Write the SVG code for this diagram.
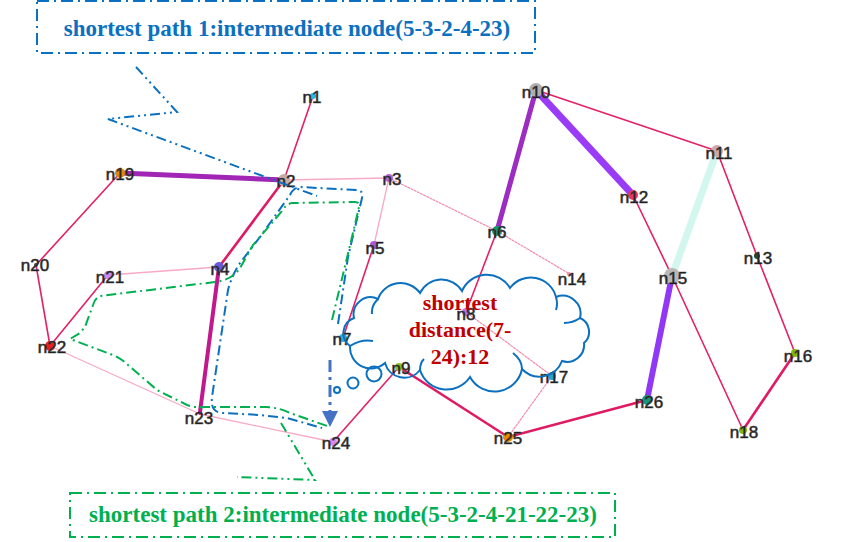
<svg xmlns="http://www.w3.org/2000/svg" width="851" height="542" viewBox="0 0 851 542">
<style>
.e{fill:none;stroke-linecap:round}
.r{stroke:#e42067;stroke-width:1.6}
.rt{stroke:#e01a63;stroke-width:2.6}
.p{stroke:#f7aac3;stroke-width:1.3}
.pd{stroke:#f08cab;stroke-width:1.2;stroke-dasharray:2 1.5}
.lbl{font-family:"Liberation Sans",Arial,sans-serif;font-size:17px;fill:#111;stroke:#444;stroke-width:0.6;text-anchor:middle;dominant-baseline:central}
.ttl{font-family:"Liberation Serif","Times New Roman",serif;font-weight:bold;font-size:23px;text-anchor:middle}
.bdd{fill:none;stroke-width:2;stroke-dasharray:12 5 2 5}
.cl{fill:none;stroke-width:2;stroke-dasharray:10 4 2 4 2 4}
.rt1{fill:none;stroke-width:2;stroke-dasharray:10 4 2 4}
.blue{stroke:#0b70c0}
.green{stroke:#00b050}
.ct{font-family:"Liberation Serif","Times New Roman",serif;font-weight:bold;font-size:22px;fill:#c00000;stroke:none;text-anchor:middle}
</style>
<rect width="851" height="542" fill="#fff"/>
<g id="connectors">
<line class="e r" x1="313" y1="96" x2="284" y2="180"/>
<line class="e r" x1="120" y1="173" x2="36" y2="265"/>
<line class="e r" x1="36" y1="265" x2="50" y2="346"/>
<line class="e r" x1="108" y1="275" x2="50" y2="346"/>
<line class="e r" x1="374" y1="245" x2="343" y2="338"/>
<line class="e r" x1="497" y1="231" x2="466" y2="312"/>
<line class="e r" x1="399" y1="367" x2="333" y2="442"/>
<line class="e r" x1="536" y1="90" x2="717" y2="151"/>
<line class="e r" x1="717" y1="151" x2="757" y2="256"/>
<line class="e r" x1="757" y1="256" x2="795" y2="353"/>
<line class="e r" x1="633" y1="195" x2="672" y2="276"/>
<line class="e r" x1="672" y1="276" x2="743" y2="430"/>
<line class="e rt" x1="284" y1="180" x2="219" y2="267"/>
<line class="e rt" x1="399" y1="367" x2="508" y2="437"/>
<line class="e rt" x1="508" y1="437" x2="647" y2="400"/>
<line class="e rt" x1="795" y1="353" x2="743" y2="430"/>
<line class="e p" x1="284" y1="180" x2="389" y2="178"/>
<line class="e p" x1="389" y1="178" x2="374" y2="245"/>
<line class="e p" x1="219" y1="267" x2="108" y2="275"/>
<line class="e p" x1="50" y1="346" x2="200" y2="414"/>
<line class="e p" x1="200" y1="414" x2="333" y2="442"/>
<line class="e pd" x1="389" y1="178" x2="497" y2="231"/>
<line class="e pd" x1="497" y1="231" x2="568" y2="273"/>
<line class="e pd" x1="466" y1="312" x2="552" y2="376"/>
<line class="e pd" x1="552" y1="376" x2="508" y2="437"/>
<line class="e" stroke="#a126b5" stroke-width="5" x1="120" y1="173" x2="284" y2="180"/>
<line class="e" stroke="#c2188e" stroke-width="4" x1="219" y1="267" x2="200" y2="412"/>
<line class="e" stroke="#9c2cc2" stroke-width="5" x1="536" y1="90" x2="497" y2="231"/>
<line class="e" stroke="#9a3cf7" stroke-width="7" x1="536" y1="90" x2="633" y2="195"/>
<line class="e" stroke="#9038f5" stroke-width="6" x1="672" y1="276" x2="647" y2="400"/>
<line class="e" stroke="#d3f6ee" stroke-width="7" x1="717" y1="151" x2="672" y2="276"/>
</g>
<g id="nodes">
<g id="n1"><circle cx="313" cy="96" r="3" fill="#2ab8e0"/><text class="lbl" x="312" y="97">n1</text></g>
<g id="n2"><circle cx="284" cy="180" r="6" fill="#c9aca6"/><text class="lbl" x="286" y="181">n2</text></g>
<g id="n3"><circle cx="389" cy="178" r="4" fill="#b566d9"/><text class="lbl" x="392" y="179">n3</text></g>
<g id="n4"><circle cx="219" cy="267" r="5" fill="#6a5add"/><text class="lbl" x="220" y="269">n4</text></g>
<g id="n5"><circle cx="374" cy="245" r="4" fill="#aa5ad8"/><text class="lbl" x="375" y="248">n5</text></g>
<g id="n6"><circle cx="497" cy="231" r="5" fill="#18966c"/><text class="lbl" x="497" y="232">n6</text></g>
<g id="n7"><circle cx="343" cy="338" r="4" fill="#2ab0e0"/><text class="lbl" x="342" y="339">n7</text></g>
<g id="n8"><circle cx="466" cy="312" r="4" fill="#c070e8"/><text class="lbl" x="466" y="314">n8</text></g>
<g id="n9"><circle cx="399" cy="367" r="4" fill="#8cc020"/><text class="lbl" x="401" y="368">n9</text></g>
<g id="n10"><circle cx="536" cy="90" r="7" fill="#b0b0b0"/><text class="lbl" x="536" y="92">n10</text></g>
<g id="n11"><circle cx="717" cy="151" r="6" fill="#cfa9a9"/><text class="lbl" x="719" y="153">n11</text></g>
<g id="n12"><circle cx="633" cy="195" r="5" fill="#e8375a"/><text class="lbl" x="634" y="197">n12</text></g>
<g id="n13"><circle cx="757" cy="256" r="3" fill="#2e4a2e"/><text class="lbl" x="758" y="258">n13</text></g>
<g id="n14"><circle cx="569" cy="274" r="2" fill="#f08cab"/><text class="lbl" x="572" y="279">n14</text></g>
<g id="n15"><circle cx="672" cy="276" r="8" fill="#b8b8b8"/><text class="lbl" x="673" y="278">n15</text></g>
<g id="n16"><circle cx="795" cy="353" r="4" fill="#86b800"/><text class="lbl" x="798" y="356">n16</text></g>
<g id="n17"><circle cx="552" cy="376" r="4" fill="#22a8d0"/><text class="lbl" x="554" y="377">n17</text></g>
<g id="n18"><circle cx="743" cy="430" r="4" fill="#86b800"/><text class="lbl" x="744" y="432">n18</text></g>
<g id="n19"><circle cx="120" cy="173" r="5" fill="#e08a00"/><text class="lbl" x="120" y="174">n19</text></g>
<g id="n20"><circle cx="36" cy="265" r="2" fill="#444"/><text class="lbl" x="35" y="265">n20</text></g>
<g id="n21"><circle cx="108" cy="275" r="4" fill="#cc88ee"/><text class="lbl" x="110" y="277">n21</text></g>
<g id="n22"><circle cx="50" cy="346" r="5" fill="#ee1c1c"/><text class="lbl" x="52" y="347">n22</text></g>
<g id="n23"><circle cx="200" cy="413" r="2" fill="#c2188e"/><text class="lbl" x="199" y="418">n23</text></g>
<g id="n24"><circle cx="333" cy="442" r="4" fill="#dd88ee"/><text class="lbl" x="336" y="443">n24</text></g>
<g id="n25"><circle cx="508" cy="437" r="5" fill="#ee8800"/><text class="lbl" x="508" y="438">n25</text></g>
<g id="n26"><circle cx="647" cy="400" r="5" fill="#18967e"/><text class="lbl" x="649" y="402">n26</text></g>
</g>
<g id="paths">
<path class="rt1 blue" d="M 338,324 L 348,257 L 362,198 Q 364,190 356,190 L 300,187 Q 293,188 290,195 L 260,237 L 240,263 Q 232,275 228,290 L 212,397 Q 210,412 222,413 L 260,415 L 287,418 L 322,428"/>
<path class="rt1 green" d="M 332,320 L 352,237 L 359,207 Q 360,202 355,202 L 292,203 Q 286,204 282,211 L 253,245 L 240,268 Q 232,280 215,282 L 100,296 Q 95,298 93,305 L 85,327 L 80,333 L 70,339 L 113,355 Q 122,359 128,365 L 157,390 L 187,405 Q 195,408 205,407 L 267,407 Q 280,408 290,413 L 330,427"/>
</g>
<g id="callout1">
<rect class="bdd blue" x="37" y="1" width="498" height="52"/>
<text class="ttl" x="287" y="36" fill="#0b70c0">shortest path 1:intermediate node(5-3-2-4-23)</text>
<polyline class="cl blue" points="136,67 177,112 108,119 317,196"/>
</g>
<g id="callout2">
<rect class="bdd green" x="70" y="493" width="545" height="44"/>
<text class="ttl" x="343" y="522" fill="#00b050">shortest path 2:intermediate node(5-3-2-4-21-22-23)</text>
<polyline class="cl green" points="281,423 315,480 237,477"/>
</g>
<g id="arrow">
<line x1="330" y1="360" x2="330" y2="411" stroke="#4472c4" stroke-width="3" stroke-dasharray="12 5 3 5"/>
<polygon points="322,411 338,411 330,427" fill="#4472c4"/>
</g>
<g id="cloud" fill="none" stroke="#0b70c0" stroke-width="2">
<path d="M 350,346 A 16 16 0 0 1 354,318 A 17 17 0 0 1 378,299 A 24 24 0 0 1 420,293 A 24 24 0 0 1 462,291 A 27 27 0 0 1 510,288 A 26 26 0 0 1 556,297 A 18 18 0 0 1 580,318 A 15 15 0 0 1 584,343 A 17 17 0 0 1 562,361 A 24 24 0 0 1 522,369 A 28 28 0 0 1 470,377 A 28 28 0 0 1 420,370 A 20 20 0 0 1 385,363 A 21 21 0 0 1 350,346 Z"/>
<path d="M 350,346 Q 361,339 373,341 M 378,299 Q 371,306 372,314 M 556,297 Q 558,304 556,310 M 580,318 Q 573,323 564,323 M 522,369 Q 522,360 513,353 M 420,370 Q 420,363 424,359"/>
<circle cx="337" cy="390" r="3"/>
<circle cx="353" cy="383" r="5.5"/>
<circle cx="374" cy="374" r="7.5"/>
<text class="ct" x="460" y="310">shortest</text>
<text class="ct" x="460" y="337">distance(7-</text>
<text class="ct" x="460" y="364">24):12</text>
</g>
</svg>
